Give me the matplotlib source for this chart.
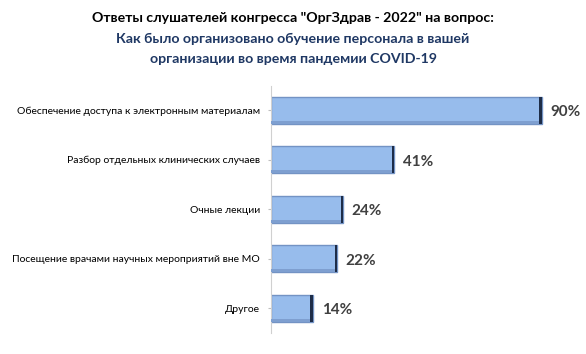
import matplotlib
matplotlib.use("Agg")
import matplotlib.pyplot as plt

categories = [
    "Обеспечение доступа к электронным материалам",
    "Разбор отдельных клинических случаев",
    "Очные лекции",
    "Посещение врачами научных мероприятий вне МО",
    "Другое",
]
values = [90, 41, 24, 22, 14]
value_labels = ["90%", "41%", "24%", "22%", "14%"]

plt.rcParams['font.family'] = ['Lato', 'DejaVu Sans']

fig = plt.figure(figsize=(5.86, 3.54), dpi=100)
ax = fig.add_axes([271/586, (354-333)/354, 301/586, 247.5/354])

ypos = list(range(len(categories)))
ax.barh(ypos, values, height=0.55, color='#97BCEC', edgecolor='#7393C4', linewidth=1.0, zorder=2)
# subtle bevel: darker bottom strip, dark right end
ax.barh([y + 0.245 for y in ypos], values, height=0.06, color='#7E9FD0', linewidth=0, zorder=3)
ax.barh(ypos, [0.9]*len(values), left=[v - 0.9 for v in values], height=0.55, color='#1E2D48', linewidth=0, zorder=4)

for y, v, lab in zip(ypos, values, value_labels):
    ax.text(v + 2.8, y + 0.04, lab, va='center', ha='left', fontsize=11, fontweight='bold', color='#404040')

ax.set_yticks(ypos)
ax.set_yticklabels(categories, fontsize=7.5, color='#000000')
ax.set_ylim(len(categories) - 0.5, -0.5)
ax.set_xlim(0, 100)
ax.set_xticks([])
for s in ['top', 'right', 'bottom']:
    ax.spines[s].set_visible(False)
ax.spines['left'].set_color('#D0D0D0')
ax.spines['left'].set_linewidth(0.8)
ax.tick_params(axis='y', length=2, color='#BFBFBF', pad=6)

fig.text(0.5, 0.950, 'Ответы слушателей конгресса "ОргЗдрав - 2022" на вопрос:', ha='center', va='center',
         fontsize=10.2, fontweight='bold', color='#000000')
fig.text(0.5, 0.890, 'Как было организовано обучение персонала в вашей', ha='center', va='center',
         fontsize=10.2, fontweight='bold', color='#1F3864')
fig.text(0.5, 0.832, 'организации во время пандемии COVID-19', ha='center', va='center',
         fontsize=10.2, fontweight='bold', color='#1F3864')

fig.savefig('out.png', dpi=100)
